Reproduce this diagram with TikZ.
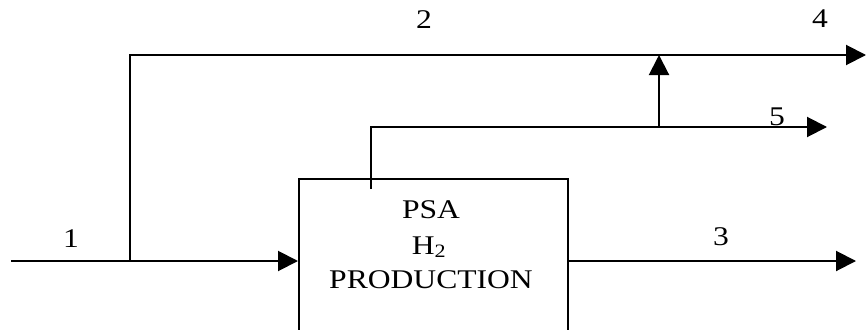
\documentclass[tikz,border=0pt]{standalone}
\usepackage{fontspec}
\setmainfont{Liberation Serif}
\usetikzlibrary{arrows.meta}
\newcommand\hstretch[1]{\scalebox{1.17}[1]{#1}}
\begin{document}
\begin{tikzpicture}[x=1pt,y=-1pt,
  line/.style={line width=2pt},
  arr/.style={line width=2pt,-{Triangle[length=20pt,width=20pt]}},
  lbl/.style={font=\fontsize{27}{33}\selectfont, inner sep=0pt, anchor=base}]
\useasboundingbox (0,0) rectangle (866,329);
\begin{scope}
\clip (0,0) rectangle (866,329);
\node[draw,line width=2pt,minimum width=269pt,minimum height=170pt,inner sep=0pt] (box) at (433.5,264) {};
\end{scope}
% coordinates
\coordinate (in1) at (11,261);
\coordinate (j1) at (130,261);
\coordinate (c2) at (130,55);
\coordinate (out4) at (866,55);
\coordinate (s5) at (371,189);
\coordinate (c5) at (371,127);
\coordinate (j2) at (659,127);
\coordinate (t2) at (659,55);
\coordinate (out5) at (827,127);
\coordinate (out3) at (856,261);
% connectors
\draw[arr] (in1) -- (in1 -| box.west);
\draw[arr] (j1) -- (c2) -- (out4);
\draw[arr] (s5) -- (c5) -- (out5);
\draw[arr] (j2) -- (t2);
\draw[arr] (out3 -| box.east) -- (out3);
% labels
\node[lbl] (l1) at (71,247) {\hstretch{1}};
\node[lbl] (l2) at (424,29) {\hstretch{2}};
\node[lbl] (l4) at (820,28) {\hstretch{4}};
\node[lbl] (l3) at (721,245) {\hstretch{3}};
\node[lbl] (l5) at (777,125) {\hstretch{5}};
\node[lbl] (psa) at (431,218) {\hstretch{PSA}};
\node[lbl] (h2) at (429,254) {\hstretch{H\textsubscript{2}}};
\node[lbl] (prod) at (431,288) {\hstretch{PRODUCTION}};
\end{tikzpicture}
\end{document}
